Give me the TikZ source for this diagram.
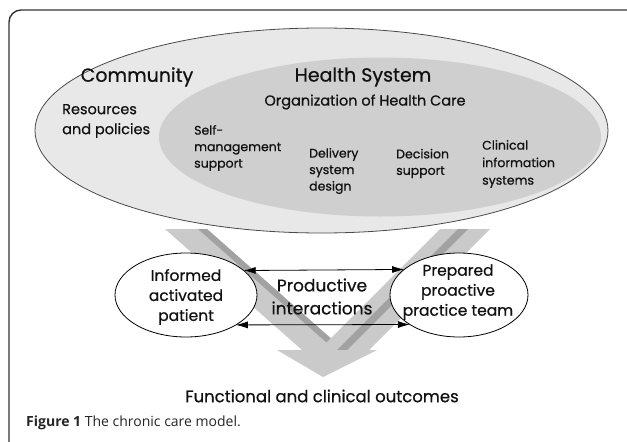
\documentclass[tikz,border=0pt]{standalone}
\usepackage{fontspec}
\setmainfont{Poppins}[FakeBold=0.6]
\newfontfamily\capfont{Open Sans}
\usetikzlibrary{shapes.geometric,arrows.meta}
\definecolor{outerfill}{HTML}{E8E8E8}
\definecolor{innerfill}{HTML}{CFCFCF}
\definecolor{outline}{HTML}{4A4A4A}
\definecolor{armfill}{HTML}{CACACA}
\definecolor{armdark}{HTML}{A2A2A2}
\definecolor{framecol}{HTML}{333333}
\definecolor{txt}{HTML}{111111}
\begin{document}
\begin{tikzpicture}[x=1pt,y=-1pt,
  framebox/.style={draw=framecol,line width=1.4pt,rounded corners=12pt},
  bigell/.style={ellipse,inner sep=0pt,outer sep=0pt},
  smallell/.style={ellipse,draw=black,line width=0.8pt,fill=white,minimum width=142pt,minimum height=84pt,inner sep=0pt,outer sep=0pt},
  biarrow/.style={{Latex[length=12pt,width=7pt]}-{Latex[length=12pt,width=7pt]},line width=0.8pt},
  lbl/.style={text=txt,inner sep=0pt,align=left},
  ctr/.style={text=txt,inner sep=0pt,align=center}]
\useasboundingbox (0,0) rectangle (627,442);
\clip (0,0) rectangle (627,442);
\fill[white] (0,0) rectangle (627,442);
\draw[framebox] (9,470) -- (9,10) -- (660,10);
% V-shaped arrow
\fill[armfill] (165,229) -- (207,229) -- (344,350) -- (302,350) -- cycle;
\fill[armdark] (198,229) -- (207,229) -- (344,350) -- (335,350) -- cycle;
\fill[armfill] (440,229) -- (490,229) -- (369,350) -- (319,350) -- cycle;
\fill[armdark] (458,229) -- (468,229) -- (347,350) -- (337,350) -- cycle;
\fill[armfill] (277,350) -- (377,350) -- (323,377) -- cycle;
% ellipses
\node[bigell,draw=outline,line width=0.8pt,fill=outerfill,minimum width=573pt,minimum height=205pt] (community) at (321.5,130.5) {};
\node[bigell,fill=innerfill,minimum width=442pt,minimum height=159pt] (healthsys) at (380,137) {};
\node[smallell] (patient) at (186,295) {};
\node[smallell,minimum width=138pt] (team) at (459,295) {};
\draw[biarrow] (patient.23.7) -- (team.155.8);
\draw[biarrow] (patient.-31) -- (team.-149);
% texts
\node[ctr,font=\fontsize{19}{22}\selectfont] (tcommunity) at (137,77) {Community};
\node[ctr,font=\fontsize{19}{22}\selectfont] (thealth) at (363,77) {Health System};
\node[ctr,font=\fontsize{14.5}{17}\selectfont] (torg) at (365,102) {Organization of Health Care};
\node[lbl,anchor=west,font=\fontsize{14.5}{20}\selectfont] (tres) at (62,121) {Resources\\and policies};
\node[lbl,anchor=west,font=\fontsize{12.5}{16.5}\selectfont] (tself) at (194,148) {Self-\\management\\support};
\node[lbl,anchor=west,font=\fontsize{12.5}{16.5}\selectfont] (tdel) at (309,171) {Delivery\\system\\design};
\node[lbl,anchor=west,font=\fontsize{12.5}{16.5}\selectfont] (tdec) at (396,163.5) {Decision\\support};
\node[lbl,anchor=west,font=\fontsize{12.5}{17.5}\selectfont] (tclin) at (482,164) {Clinical\\information\\systems};
\node[ctr,font=\fontsize{15.5}{20}\selectfont] (tpatient) at (186,297) {Informed\\activated\\patient};
\node[ctr,font=\fontsize{15.5}{20}\selectfont] (tteam) at (458,292) {Prepared\\proactive\\practice team};
\node[ctr,font=\fontsize{17}{23}\selectfont] (tprod) at (322,296.5) {Productive\\interactions};
\node[ctr,font=\fontsize{16.5}{18}\selectfont] (tout) at (322,396) {Functional and clinical outcomes};
\node[lbl,anchor=west,text=black!85,font=\capfont\fontsize{14}{17}\selectfont] (tcap) at (26,423) {\textbf{Figure 1} The chronic care model.};
\end{tikzpicture}
\end{document}
